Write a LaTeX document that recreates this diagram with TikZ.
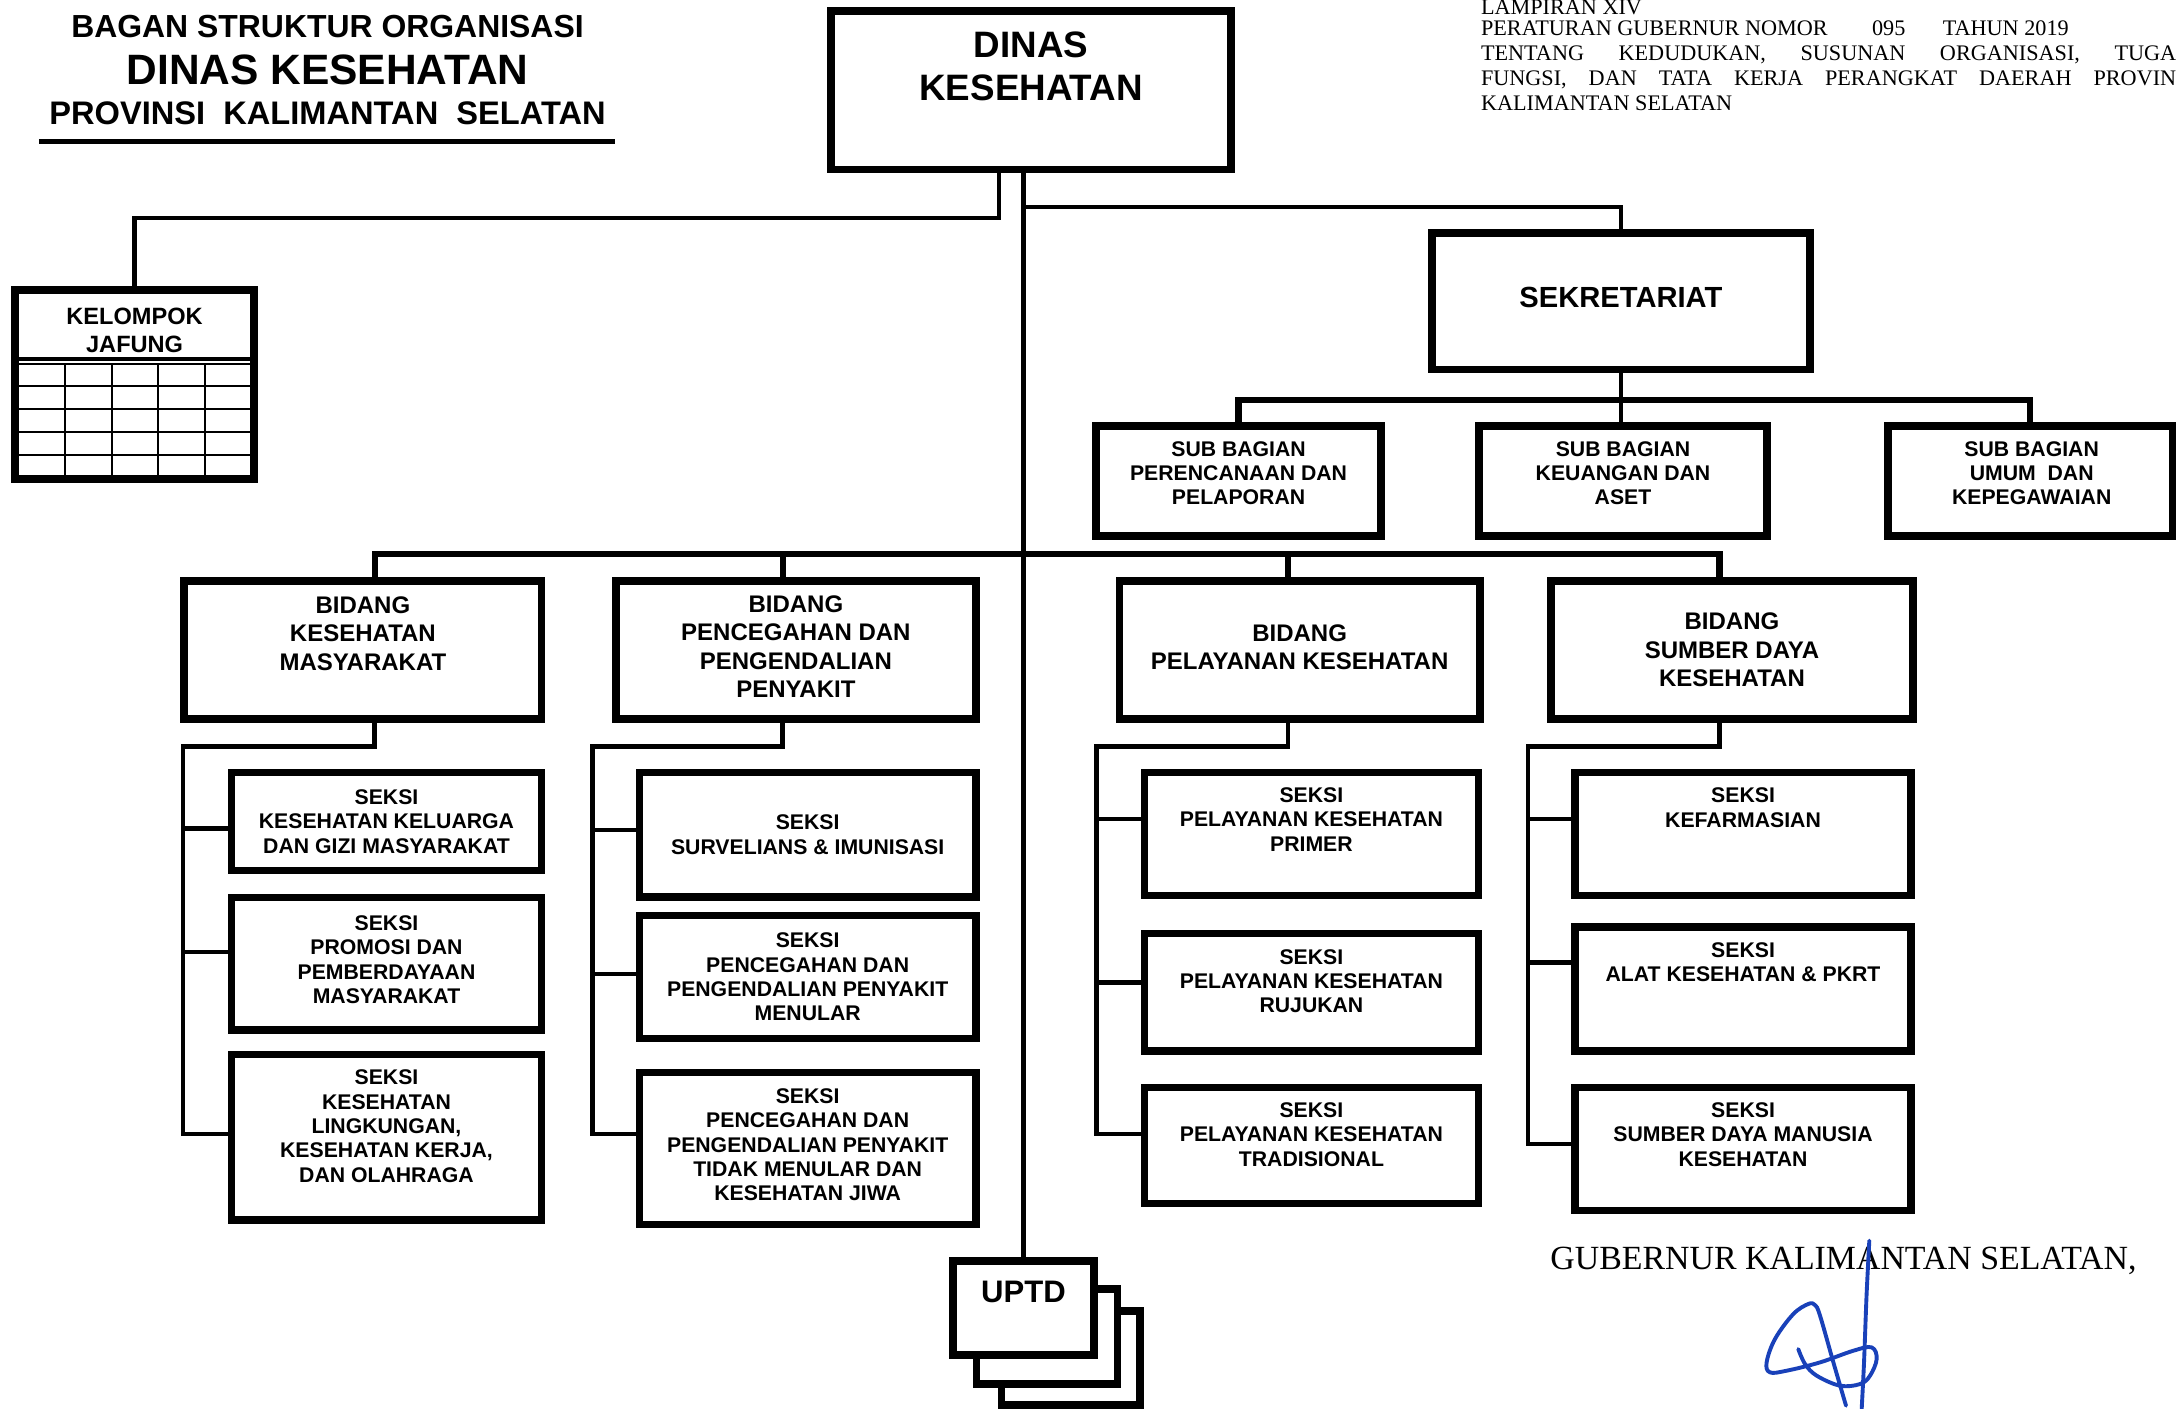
\documentclass[tikz,border=0pt]{standalone}
\usepackage{fontspec}
\newfontfamily\orgfont{Liberation Sans}
\newfontfamily\docfont{Liberation Serif}
\definecolor{signblue}{RGB}{25,65,185}

\begin{document}
\begin{tikzpicture}[x=1pt, y=-1pt,
  box/.style={draw, line width=5.5pt, fill=white, inner sep=0pt},
  grid/.style={line width=1.5pt},
  conn/.style={line width=3.2pt},
  bus/.style={line width=4.5pt},
  stxt/.style={align=center, inner sep=0pt, font=\orgfont\bfseries\fontsize{15.3}{17.5}\selectfont},
  btxt/.style={align=center, inner sep=0pt, font=\orgfont\bfseries\fontsize{17.3}{20.5}\selectfont},
  hdr/.style={anchor=base west, inner sep=0pt, font=\docfont\fontsize{16}{18}\selectfont},
  sign/.style={signblue, line width=2.8pt, line cap=round, line join=round}
]
\useasboundingbox (0,0) rectangle (1568,1015.3);

% Title block
\node[anchor=base, inner sep=0pt, font=\orgfont\bfseries\fontsize{23}{26}\selectfont] (bagan) at (236,27) {BAGAN STRUKTUR ORGANISASI};
\node[anchor=base, inner sep=0pt, font=\orgfont\bfseries\fontsize{30.6}{34}\selectfont] (dinkes) at (236,61) {DINAS KESEHATAN};
\node[anchor=base, inner sep=0pt, font=\orgfont\bfseries\fontsize{23.5}{26}\selectfont] (prov) at (236,90) {PROVINSI\ \ KALIMANTAN\ \ SELATAN};
\draw[line width=4pt] (28,102) -- (443,102);

% Header text (right)
\node[hdr] (lamp) at (1067,10.5) {LAMPIRAN XIV};
\node[hdr] (pergub) at (1067,25.5) {PERATURAN GUBERNUR NOMOR\hspace{32pt}095\hspace{27pt}TAHUN 2019};
\node[hdr] (tentang) at (1067,43.5) {\hbox to 501pt{TENTANG\hfill KEDUDUKAN,\hfill SUSUNAN\hfill ORGANISASI,\hfill TUGA}};
\node[hdr] (fungsi) at (1067,61.5) {\hbox to 501pt{FUNGSI,\hfill DAN\hfill TATA\hfill KERJA\hfill PERANGKAT\hfill DAERAH\hfill PROVIN}};
\node[hdr] (kalsel) at (1067,79.5) {KALIMANTAN SELATAN};

% Kepala dinas
\node[box, minimum width=288.5pt, minimum height=114.5pt] (dinas) at (743,65) {};
\node[inner sep=0pt, align=center, font=\orgfont\bfseries\fontsize{26.5}{31}\selectfont] (dinasT) at ([yshift=17.5pt]dinas) {DINAS\\KESEHATAN};

% Kelompok jabatan fungsional
\node[box, minimum width=172.5pt, minimum height=136.5pt] (kelompok) at (97,277) {};
\node[align=center, inner sep=0pt, font=\orgfont\bfseries\fontsize{17}{20}\selectfont] (kelompokT) at ([yshift=39pt]kelompok) {KELOMPOK\\JAFUNG};
\draw[line width=3pt] (11,258.5) -- (183,258.5);
\draw[grid] (13.5,262.5) -- (181,262.5);
\foreach \gy in {278.4,294.8,311.2,327.6}
  \draw[grid] (13.5,\gy) -- (181,\gy);
\foreach \gx in {47,80.5,114,147.5}
  \draw[grid] (\gx,262.5) -- (\gx,344);

% Sekretariat and sub bagian
\node[box, minimum width=272.5pt, minimum height=98.5pt] (sekr) at (1168,217) {};
\node[inner sep=0pt, font=\orgfont\bfseries\fontsize{21}{24}\selectfont] (sekrT) at ([yshift=3pt]sekr) {SEKRETARIAT};

\node[box, minimum width=205.5pt, minimum height=79.5pt] (peren) at (892.5,346.5) {};
\node[box, minimum width=207.5pt, minimum height=79.5pt] (keu) at (1169.5,346.5) {};
\node[box, minimum width=205.5pt, minimum height=79.5pt] (umum) at (1463,346.5) {};
\node[stxt] (perenT) at ([yshift=5.5pt]peren) {SUB BAGIAN\\PERENCANAAN DAN\\PELAPORAN};
\node[stxt] (keuT) at ([yshift=5.5pt]keu) {SUB BAGIAN\\KEUANGAN DAN\\ASET};
\node[stxt] (umumT) at ([xshift=1pt, yshift=5.5pt]umum) {SUB BAGIAN\\UMUM\ \ DAN\\KEPEGAWAIAN};

% Bidang
\node[box, minimum width=257.5pt, minimum height=99.5pt] (kesmas) at (261.5,468.5) {};
\node[box, minimum width=259.5pt, minimum height=99.5pt] (p2p) at (573.5,468.5) {};
\node[box, minimum width=259.5pt, minimum height=99.5pt] (yankes) at (936.5,468.5) {};
\node[box, minimum width=260.5pt, minimum height=99.5pt] (sdk) at (1248,468.5) {};
\node[btxt] (kesmasT) at ([yshift=12pt]kesmas) {BIDANG\\KESEHATAN\\MASYARAKAT};
\node[btxt] (p2pT) at ([yshift=2.5pt]p2p) {BIDANG\\PENCEGAHAN DAN\\PENGENDALIAN\\PENYAKIT};
\node[btxt] (yankesT) at ([yshift=2pt]yankes) {BIDANG\\PELAYANAN KESEHATAN};
\node[btxt] (sdkT) at (sdk) {BIDANG\\SUMBER DAYA\\KESEHATAN};

% Seksi bidang kesehatan masyarakat
\node[box, minimum width=223.5pt, minimum height=70.5pt] (ks1) at (278.5,592) {};
\node[box, minimum width=223.5pt, minimum height=95.5pt] (ks2) at (278.5,694.5) {};
\node[box, minimum width=223.5pt, minimum height=119.5pt] (ks3) at (278.5,819.5) {};
\node[stxt] (ks1T) at (ks1) {SEKSI\\KESEHATAN KELUARGA\\DAN GIZI MASYARAKAT};
\node[stxt] (ks2T) at ([yshift=3pt]ks2) {SEKSI\\PROMOSI DAN\\PEMBERDAYAAN\\MASYARAKAT};
\node[stxt] (ks3T) at ([yshift=8pt]ks3) {SEKSI\\KESEHATAN\\LINGKUNGAN,\\KESEHATAN KERJA,\\DAN OLAHRAGA};

% Seksi bidang P2P
\node[box, minimum width=242.5pt, minimum height=89.5pt] (ps1) at (582,601.5) {};
\node[box, minimum width=242.5pt, minimum height=88.5pt] (ps2) at (582,704) {};
\node[box, minimum width=242.5pt, minimum height=109.5pt] (ps3) at (582,827.5) {};
\node[stxt] (ps1T) at (ps1) {SEKSI\\SURVELIANS \& IMUNISASI};
\node[stxt] (ps2T) at (ps2) {SEKSI\\PENCEGAHAN DAN\\PENGENDALIAN PENYAKIT\\MENULAR};
\node[stxt] (ps3T) at ([yshift=2.5pt]ps3) {SEKSI\\PENCEGAHAN DAN\\PENGENDALIAN PENYAKIT\\TIDAK MENULAR DAN\\KESEHATAN JIWA};

% Seksi bidang pelayanan kesehatan
\node[box, minimum width=240.5pt, minimum height=88.5pt] (ys1) at (945,601) {};
\node[box, minimum width=240.5pt, minimum height=84.5pt] (ys2) at (945,715) {};
\node[box, minimum width=240.5pt, minimum height=83.5pt] (ys3) at (945,825.5) {};
\node[stxt] (ys1T) at ([yshift=10.5pt]ys1) {SEKSI\\PELAYANAN KESEHATAN\\PRIMER};
\node[stxt] (ys2T) at ([yshift=8pt]ys2) {SEKSI\\PELAYANAN KESEHATAN\\RUJUKAN};
\node[stxt] (ys3T) at ([yshift=8pt]ys3) {SEKSI\\PELAYANAN KESEHATAN\\TRADISIONAL};

% Seksi bidang sumber daya kesehatan
\node[box, minimum width=242.5pt, minimum height=88.5pt] (ds1) at (1256,601) {};
\node[box, minimum width=242.5pt, minimum height=89.5pt] (ds2) at (1256,712.5) {};
\node[box, minimum width=242.5pt, minimum height=88.5pt] (ds3) at (1256,828) {};
\node[stxt] (ds1T) at ([yshift=19pt]ds1) {SEKSI\\KEFARMASIAN};
\node[stxt] (ds2T) at ([yshift=19pt]ds2) {SEKSI\\ALAT KESEHATAN \& PKRT};
\node[stxt] (ds3T) at ([yshift=10.5pt]ds3) {SEKSI\\SUMBER DAYA MANUSIA\\KESEHATAN};

% UPTD (stacked)
\node[box, minimum width=99.5pt, minimum height=67.5pt] (uptdC) at (771.5,978.5) {};
\node[box, minimum width=101.5pt, minimum height=68.5pt] (uptdB) at (754.5,963) {};
\node[box, minimum width=101.5pt, minimum height=67.5pt] (uptdA) at (737.5,942.5) {};
\node[inner sep=0pt, font=\orgfont\bfseries\fontsize{22.4}{26}\selectfont] (uptdT) at ([yshift=11.5pt]uptdA) {UPTD};

% Connector coordinates
\coordinate (jbend) at (720,157);
\coordinate (sbend) at (1168,149);
\coordinate (subbus) at (0,288);
\coordinate (bbus) at (0,399);
\coordinate (kesmasC) at ([xshift=8.5pt]kesmas.north);
\coordinate (p2pC) at ([xshift=-9.5pt]p2p.north);
\coordinate (yankesC) at ([xshift=-8.5pt]yankes.north);
\coordinate (sdkC) at ([xshift=-9pt]sdk.north);
\coordinate (kspine) at (132,538);
\coordinate (pspine) at (427,538);
\coordinate (yspine) at (790,538);
\coordinate (dspine) at (1101,538);

% Main lines
\draw[conn] (uptdA.north |- dinas.south) -- (uptdA.north);
\draw[conn] (jbend |- dinas.south) -- (jbend) -| (kelompok.north);
\draw[conn] (uptdA.north |- sbend) -- (sbend) -- (sekr.north);
\draw[conn] (sekr.south) -- (sekr.south |- keu.north);
\draw[bus] (peren.north) |- (subbus -| keu.north) -| (umum.north);

% Bidang bus
\draw[bus] (kesmasC) |- (bbus -| sdkC) -- (sdkC);
\draw[bus] (p2pC) -- (p2pC |- bbus);
\draw[bus] (yankesC) -- (yankesC |- bbus);

% Seksi spines
\draw[conn] ([xshift=8.5pt]kesmas.south) |- (kspine) |- ([yshift=2.5pt]ks3.west);
\draw[conn] ([yshift=-5pt]ks1.west) -- ([yshift=-5pt]ks1.west -| kspine);
\draw[conn] ([yshift=8.5pt]ks2.west) -- ([yshift=8.5pt]ks2.west -| kspine);

\draw[conn] ([xshift=-9.5pt]p2p.south) |- (pspine) |- ([yshift=10.5pt]ps3.west);
\draw[conn] ([yshift=3.5pt]ps1.west) -- ([yshift=3.5pt]ps1.west -| pspine);
\draw[conn] ([yshift=2pt]ps2.west) -- ([yshift=2pt]ps2.west -| pspine);

\draw[conn] ([xshift=-8.5pt]yankes.south) |- (yspine) |- ([yshift=8.5pt]ys3.west);
\draw[conn] ([yshift=11pt]ys1.west) -- ([yshift=11pt]ys1.west -| yspine);
\draw[conn] ([yshift=7pt]ys2.west) -- ([yshift=7pt]ys2.west -| yspine);

\draw[conn] ([xshift=-9pt]sdk.south) |- (dspine) |- ([yshift=3.5pt]ds3.west);
\draw[conn] ([yshift=11pt]ds1.west) -- ([yshift=11pt]ds1.west -| dspine);
\draw[conn] ([yshift=19pt]ds2.west) -- ([yshift=19pt]ds2.west -| dspine);

% Signature block
\node[anchor=base west, inner sep=0pt, font=\docfont\fontsize{24.4}{28}\selectfont] (gub) at (1117,915) {GUBERNUR KALIMANTAN SELATAN,};
\draw[sign] plot[smooth] coordinates {(1347,894) (1345,933.6) (1343.2,981.4) (1341.5,1015.3)};
\draw[sign] plot[smooth, tension=0.6] coordinates {(1330.2,1012.9) (1321.1,981.7) (1311.5,948.1) (1307.9,940.4) (1303.1,939.6) (1292.2,946.9) (1279,964.9) (1273,981.7) (1275.4,988.9) (1287.4,987.7) (1311.5,981.7) (1335.5,973.3) (1348.7,970.9) (1352.3,979.3) (1347.5,991.3) (1340.3,997.3) (1325.9,998.5) (1309.1,991.3) (1300.7,982.9) (1295.8,972.1)};

\end{tikzpicture}
\end{document}
